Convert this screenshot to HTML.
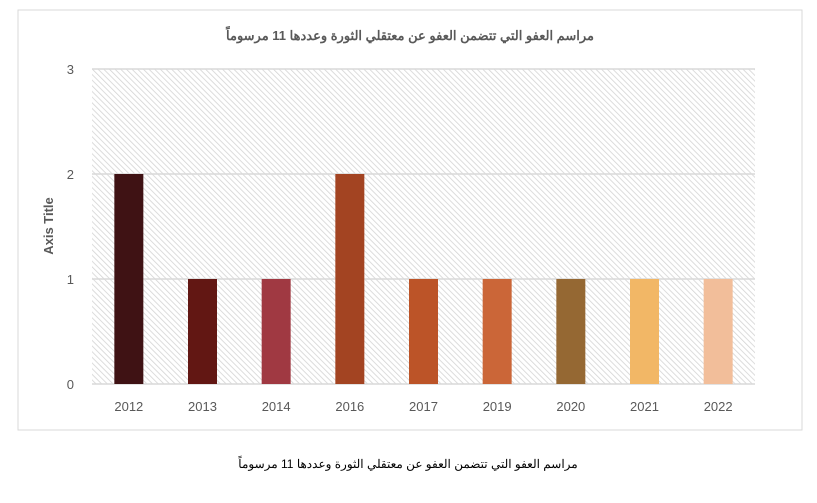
<!DOCTYPE html>
<html><head><meta charset="utf-8"><style>
body{margin:0;width:817px;height:498px;background:#fff;font-family:"Liberation Sans","Noto Sans CJK SC",sans-serif;overflow:hidden}
</style></head><body>
<svg width="817" height="498">
<defs><pattern id="h" width="4" height="4" patternUnits="userSpaceOnUse" patternTransform="rotate(-45)">
<rect width="4" height="4" fill="#fff"/><line x1="0" y1="0" x2="0" y2="4" stroke="#d4d4d4" stroke-width="1.6"/></pattern></defs>
<rect x="18" y="10" width="784" height="420" fill="#fff" stroke="#d9d9d9"/>
<text x="410" y="40" text-anchor="middle" font-size="13" font-weight="bold" fill="#595959">مراسم العفو التي تتضمن العفو عن معتقلي الثورة وعددها 11 مرسوماً</text>
<rect x="92" y="69" width="663" height="315" fill="url(#h)"/>
<g id="grid"></g><g id="bars"></g><g id="xl"></g>
<text transform="translate(53,226) rotate(-90)" text-anchor="middle" font-size="13" font-weight="bold" fill="#595959">Axis Title</text>
<text x="408" y="468" text-anchor="middle" font-size="12" fill="#000">مراسم العفو التي تتضمن العفو عن معتقلي الثورة وعددها 11 مرسوماً</text>
</svg>
<script>
const categories=["2012","2013","2014","2016","2017","2019","2020","2021","2022"];
const values=[2,1,1,2,1,1,1,1,1];
const colors=["#3f1214","#621713","#a03942","#a34422","#bc5428","#cb6638","#956833","#f2b766","#f2be9a"];
const yTicks=[0,1,2,3];
const NS="http://www.w3.org/2000/svg";
const x0=92,x1=755,y0=384,yTop=69,yMax=3;
const y=v=>y0-(y0-yTop)*v/yMax;
const band=(x1-x0)/categories.length;
const xc=i=>x0+band*(i+0.5);
function mk(t,a,p){const e=document.createElementNS(NS,t);for(const k in a)e.setAttribute(k,a[k]);p.appendChild(e);return e;}
const g=document.getElementById('grid');
yTicks.forEach(t=>{
const l=mk('line',{x1:x0,x2:x1,y1:y(t),y2:y(t),stroke:'#d9d9d9','stroke-width':1.5},g);


const tx=mk('text',{x:74,y:y(t)+5,'text-anchor':'end','font-size':13,fill:'#595959'},g);
tx.textContent=t;


});
const b=document.getElementById('bars'),xl=document.getElementById('xl');
const bw=29;
categories.forEach((c,i)=>{
const r=mk('rect',{x:xc(i)-bw/2,y:y(values[i]),width:bw,height:y0-y(values[i]),fill:colors[i]},b);


const t=mk('text',{x:xc(i),y:411,'text-anchor':'middle','font-size':13,fill:'#595959'},xl);
t.textContent=c;


});
</script>
</body></html>
